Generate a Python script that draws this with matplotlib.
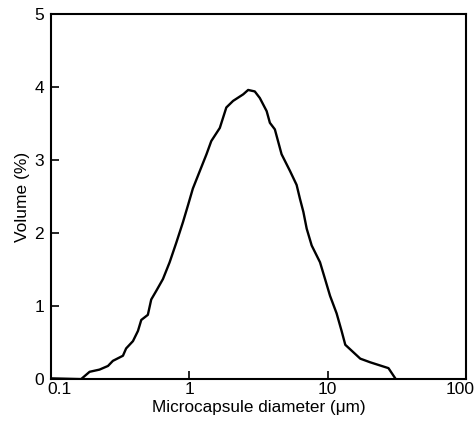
import matplotlib
matplotlib.use("Agg")
import matplotlib.pyplot as plt
import matplotlib.transforms as mtransforms
from matplotlib.ticker import FixedLocator, FixedFormatter, NullLocator

diameter_um = [0.1, 0.165, 0.190, 0.224, 0.258, 0.280, 0.331, 0.349, 0.391, 0.425,
               0.449, 0.501, 0.530, 0.577, 0.644, 0.720, 0.805, 0.899, 0.977, 1.06,
               1.19, 1.33, 1.44, 1.66, 1.85, 2.07, 2.45, 2.66, 2.97, 3.23,
               3.62, 3.82, 4.15, 4.64, 5.34, 5.96, 6.30, 6.67, 7.05, 7.66,
               8.80, 9.57, 10.4, 11.6, 12.6, 13.4, 17.2, 20.3, 27.5, 30.8]
volume_pct = [0.01, 0.0, 0.10, 0.13, 0.18, 0.25, 0.32, 0.42, 0.52, 0.66,
              0.81, 0.88, 1.09, 1.21, 1.37, 1.60, 1.87, 2.15, 2.38, 2.61,
              2.85, 3.08, 3.26, 3.44, 3.72, 3.81, 3.90, 3.96, 3.94, 3.85,
              3.67, 3.51, 3.42, 3.08, 2.85, 2.66, 2.47, 2.29, 2.06, 1.83,
              1.60, 1.37, 1.14, 0.90, 0.66, 0.47, 0.28, 0.23, 0.15, 0.01]

x_ticks = [0.1, 1, 10, 100]
x_tick_labels = ["0.1", "1", "10", "100"]
y_ticks = [0, 1, 2, 3, 4, 5]
y_tick_labels = ["0", "1", "2", "3", "4", "5"]

plt.rcParams['font.family'] = ['Liberation Sans', 'DejaVu Sans']

fig = plt.figure(figsize=(4.77, 4.25), dpi=100)
ax = fig.add_axes([0.107, 0.108, 0.870, 0.859])
ax.plot(diameter_um, volume_pct, color='black', linewidth=1.7)
ax.set_xscale('log')
ax.set_xlim(0.1, 100)
ax.set_ylim(0, 5)
ax.xaxis.set_major_locator(FixedLocator(x_ticks))
ax.xaxis.set_major_formatter(FixedFormatter(x_tick_labels))
ax.xaxis.set_minor_locator(NullLocator())
ax.set_yticks(y_ticks)
ax.set_yticklabels(y_tick_labels)
ax.tick_params(direction='in', length=6, width=1.2, labelsize=12.5, pad=2)
ax.tick_params(axis='y', pad=5)
for s in ax.spines.values():
    s.set_linewidth(1.5)
ax.set_xlabel('Microcapsule diameter (μm)', fontsize=12.3, labelpad=2)
ax.set_ylabel('Volume (%)', fontsize=12.5, labelpad=3)

xlabels = ax.get_xticklabels()
xlabels[0].set_transform(xlabels[0].get_transform() +
                         mtransforms.ScaledTranslation(8 / 100, 0, fig.dpi_scale_trans))
xlabels[-1].set_transform(xlabels[-1].get_transform() +
                          mtransforms.ScaledTranslation(-6 / 100, 0, fig.dpi_scale_trans))
fig.savefig('out.png', dpi=100)
